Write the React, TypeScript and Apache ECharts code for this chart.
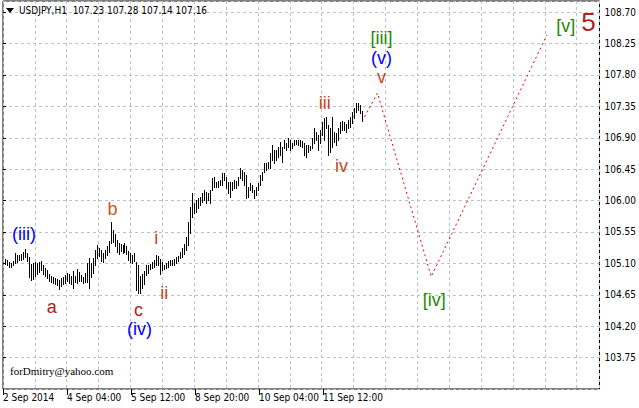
import React, { useEffect, useRef } from "react";
import * as echarts from "echarts";

// Hourly bars: high / low per bar (USDJPY H1)
const highs = [
  105.17, 105.15, 105.12, 105.11, 105.14, 105.25, 105.22, 105.22, 105.24, 105.26,
  105.31, 105.25, 105.19, 105.09, 105.11, 105.12, 105.11, 105.12, 105.14, 105.07,
  105.04, 105.01, 104.95, 104.92, 104.91, 104.89, 104.88, 104.86, 104.89, 104.91,
  104.94, 104.96, 104.95, 104.92, 104.99, 104.92, 105.02, 104.98, 104.94, 104.91,
  104.96, 105.11, 105.18, 105.11, 105.18, 105.29, 105.36, 105.32, 105.29, 105.25,
  105.29, 105.35, 105.42, 105.69, 105.58, 105.52, 105.44, 105.39, 105.38, 105.36,
  105.39, 105.35, 105.28, 105.25, 105.22, 105.25, 105.12, 105.08, 104.92, 104.95,
  104.99, 105.08, 105.08, 105.09, 105.12, 105.15, 105.22, 105.21, 105.17, 105.12,
  105.08, 105.11, 105.14, 105.15, 105.15, 105.17, 105.19, 105.21, 105.26, 105.32,
  105.38, 105.48, 105.69, 105.91, 106.11, 105.97, 106.01, 106.04, 106.05, 106.11,
  106.15, 106.12, 106.11, 106.15, 106.32, 106.34, 106.27, 106.28, 106.30, 106.40,
  106.40, 106.34, 106.27, 106.27, 106.27, 106.30, 106.28, 106.34, 106.47, 106.44,
  106.41, 106.37, 106.20, 106.25, 106.22, 106.15, 106.20, 106.25, 106.37, 106.41,
  106.54, 106.54, 106.55, 106.68, 106.80, 106.73, 106.73, 106.77, 106.84, 106.77,
  106.87, 106.83, 106.90, 106.87, 106.83, 106.87, 106.87, 106.87, 106.87, 106.86,
  106.83, 106.80, 106.80, 106.78, 106.90, 107.04, 106.98, 106.94, 107.01, 107.13,
  107.18, 107.20, 107.08, 107.04, 107.20, 106.98, 106.97, 107.04, 107.13, 107.14,
  107.13, 107.10, 107.15, 107.20, 107.27, 107.33, 107.40, 107.40, 107.37, 107.28,
];
const lows = [
  105.09, 105.07, 105.05, 105.05, 105.08, 105.11, 105.12, 105.15, 105.15, 105.17,
  105.19, 105.14, 104.91, 104.86, 104.88, 104.92, 104.95, 104.98, 105.01, 104.95,
  104.92, 104.89, 104.85, 104.84, 104.82, 104.81, 104.79, 104.74, 104.78, 104.81,
  104.82, 104.85, 104.82, 104.81, 104.75, 104.84, 104.82, 104.85, 104.85, 104.82,
  104.84, 104.84, 104.75, 104.91, 104.96, 105.08, 105.18, 105.21, 105.14, 105.12,
  105.18, 105.22, 105.26, 105.39, 105.41, 105.35, 105.26, 105.24, 105.28, 105.25,
  105.26, 105.24, 105.15, 105.12, 105.11, 105.14, 104.72, 104.68, 104.68, 104.75,
  104.81, 104.94, 104.96, 105.02, 105.04, 105.05, 105.08, 105.08, 104.95, 105.01,
  105.02, 105.04, 105.05, 105.08, 105.07, 105.08, 105.11, 105.14, 105.18, 105.19,
  105.24, 105.29, 105.36, 105.54, 105.77, 105.82, 105.84, 105.90, 105.94, 105.98,
  106.01, 105.97, 106.01, 105.97, 106.15, 106.20, 106.20, 106.20, 106.22, 106.22,
  106.30, 106.18, 106.11, 106.05, 106.15, 106.18, 106.18, 106.22, 106.32, 106.30,
  106.22, 106.04, 106.05, 106.15, 106.12, 106.04, 106.08, 106.15, 106.22, 106.30,
  106.41, 106.44, 106.47, 106.47, 106.58, 106.54, 106.58, 106.63, 106.65, 106.55,
  106.76, 106.73, 106.77, 106.73, 106.76, 106.80, 106.81, 106.80, 106.78, 106.77,
  106.65, 106.63, 106.70, 106.73, 106.76, 106.83, 106.87, 106.73, 106.83, 106.94,
  106.87, 107.04, 106.65, 106.70, 106.77, 106.84, 106.80, 106.87, 106.97, 107.01,
  107.01, 106.98, 107.04, 107.06, 107.11, 107.18, 107.27, 107.30, 107.26, 107.14,
];

// time axis labels, one every 32 bars
const timeLabels = ["2 Sep 2014", "4 Sep 04:00", "5 Sep 12:00", "8 Sep 20:00", "10 Sep 04:00", "11 Sep 12:00"];

// projected wave path (bar position, price)
const projectionX = [181.5, 188, 215, 273];
const projectionPrice = [107.2, 107.54, 104.91, 108.37];

// Elliott wave labels
const waveTexts = ["(iii)", "a", "b", "c", "(iv)", "i", "ii", "iii", "iv", "v", "(v)", "[iii]", "[iv]", "[v]", "5"];
const waveX = [10.5, 24.5, 55, 68, 68.5, 77, 81, 161.5, 170, 190, 190, 190, 216.5, 282.5, 294];
const wavePrice = [105.52, 104.48, 105.88, 104.43, 104.16, 105.47, 104.67, 107.40, 106.49, 107.765, 108.04, 108.33, 104.58, 108.50, 108.56];

const headerText = "USDJPY,H1  107.23 107.28 107.14 107.16";
const signatureText = "forDmitry@yahoo.com";

const BLUE = "#0000ff";
const GREEN = "#1f8a00";
const RED = "#b0221c";
const ORANGE = "#c8461e";
const BROWN = "#c8581e";
function waveStyle(t: string) {
  if (t.startsWith("(")) return { color: BLUE, size: 18 };
  if (t.startsWith("[")) return { color: GREEN, size: 18 };
  if (t === "5") return { color: RED, size: 26 };
  if (t === "a" || t === "c") return { color: RED, size: 18 };
  if (t === "b") return { color: BROWN, size: 18 };
  return { color: ORANGE, size: 18 };
}

const AXIS_FONT = '"DejaVu Sans Condensed", "DejaVu Sans", sans-serif';
const GRID_LINE = { show: true, lineStyle: { color: "#c0c0c0", type: [3, 3] as any, width: 1 } };

export default function App() {
  const ref = useRef<HTMLDivElement>(null);
  useEffect(() => {
    if (!ref.current) return;
    const chart = echarts.init(ref.current, undefined, { renderer: "svg" });
    const barData = highs.map((h, i) => [i + 1, h, lows[i]]);
    const waveData = waveTexts.map((t, i) => {
      const s = waveStyle(t);
      return {
        value: [waveX[i], wavePrice[i]],
        label: { formatter: t, color: s.color, fontSize: s.size },
      };
    });
    chart.setOption({
      animation: false,
      backgroundColor: "#ffffff",
      grid: [
        { left: 3, top: 1, width: 599, height: 388, show: true, borderColor: "#000", borderWidth: 1, backgroundColor: "#fff" },
        { left: 3, top: 1, width: 320, height: 388, show: false },
      ],
      xAxis: [
        {
          type: "value", gridIndex: 0, min: 0, max: 299.5, interval: 16,
          axisLine: { show: false }, axisTick: { show: false }, axisLabel: { show: false },
          splitLine: GRID_LINE,
        },
        {
          type: "value", gridIndex: 1, min: 0, max: 160, interval: 32,
          axisLine: { show: false },
          axisTick: { show: true, length: 6, lineStyle: { color: "#000" } },
          axisLabel: {
            show: true, align: "left", margin: 3, color: "#000", fontFamily: AXIS_FONT, fontSize: 10,
            showMaxLabel: true, showMinLabel: true,
            formatter: (v: number) => timeLabels[Math.round(v / 32)] ?? "",
          },
          splitLine: { show: false },
        },
      ],
      yAxis: [
        {
          type: "value", gridIndex: 0, position: "right", min: 103.3, max: 108.86, interval: 0.45,
          axisLine: { show: false },
          axisTick: { show: true, length: 3, lineStyle: { color: "#000" } },
          axisLabel: {
            margin: 5, color: "#000", fontFamily: AXIS_FONT, fontSize: 10, showMaxLabel: false, showMinLabel: false,
            formatter: (v: number) => v.toFixed(2),
          },
          splitLine: GRID_LINE,
        },
        { type: "value", gridIndex: 1, min: 103.3, max: 108.86, show: false, splitLine: { show: false } },
      ],
      series: [
        {
          type: "custom",
          xAxisIndex: 0, yAxisIndex: 0,
          data: barData,
          renderItem: (params: any, api: any) => {
            const x = api.value(0);
            const p1 = api.coord([x, api.value(1)]);
            const p2 = api.coord([x, api.value(2)]);
            const px = Math.round(p1[0]) + 0.5;
            return {
              type: "line",
              shape: { x1: px, y1: Math.round(p1[1]), x2: px, y2: Math.round(p2[1]) + 1 },
              style: { stroke: "#000", lineWidth: 1 },
            };
          },
        },
        {
          type: "line",
          xAxisIndex: 0, yAxisIndex: 0,
          data: projectionX.map((x, i) => [x, projectionPrice[i]]),
          symbol: "none",
          lineStyle: { color: "#ff0000", width: 1, type: [2, 3] },
          z: 3,
        },
        {
          type: "scatter",
          xAxisIndex: 0, yAxisIndex: 0,
          data: waveData,
          symbolSize: 1,
          itemStyle: { color: "rgba(0,0,0,0)", opacity: 1 },
          label: { show: true, position: "inside", opacity: 1, fontFamily: '"Liberation Sans", Arial, sans-serif' },
          z: 4,
        },
      ],
      graphic: [
        { type: "polygon", shape: { points: [[6, 8], [14, 8], [10, 13]] }, style: { fill: "#000" }, z: 10 },
        {
          type: "text", left: 19, top: 5,
          style: { text: headerText, fill: "#000", font: `10px ${AXIS_FONT}` },
          z: 10,
        },
        {
          type: "text", left: 10, top: 365,
          style: { text: signatureText, fill: "#000", font: `11px "Liberation Serif", "DejaVu Serif", serif` },
          z: 10,
        },
      ],
    });
    return () => chart.dispose();
  }, []);
  return (
    <div
      ref={ref}
      style={{ position: "fixed", left: 0, top: 0, width: 639, height: 408, background: "#fff" }}
    />
  );
}
